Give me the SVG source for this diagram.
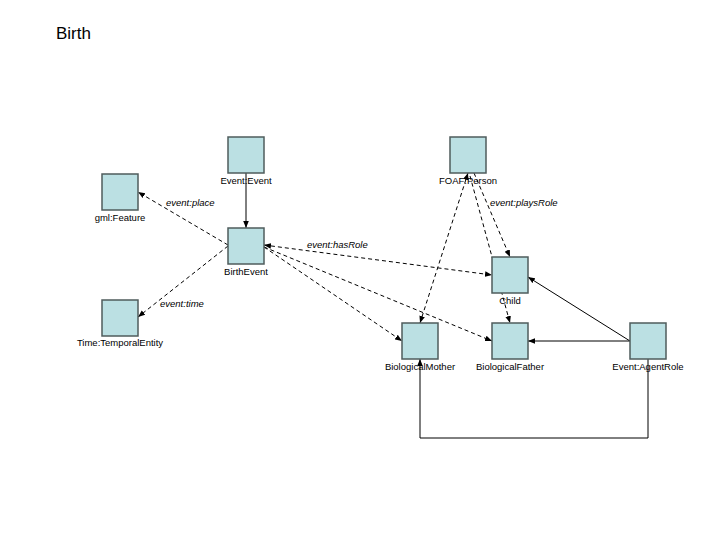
<svg xmlns="http://www.w3.org/2000/svg" width="720" height="540" viewBox="0 0 720 540">
<defs>
<marker id="ah" viewBox="0 0 10 10" refX="10" refY="5" markerWidth="7" markerHeight="7" orient="auto-start-reverse" markerUnits="userSpaceOnUse">
<path d="M0,1 L10,5 L0,9 z" fill="#000"/>
</marker>
<style>
.box{fill:#bbe0e3;stroke:#4f5c5c;stroke-width:1.5}
.lbl{font-family:"Liberation Sans",Arial,sans-serif;font-size:9.5px;fill:#000;text-anchor:middle}
.el{font-family:"Liberation Sans",Arial,sans-serif;font-size:9.5px;font-style:italic;fill:#000}
.d{fill:none;stroke:#000;stroke-width:1;stroke-dasharray:4,3;marker-end:url(#ah)}
.s{fill:none;stroke:#000;stroke-width:1;marker-end:url(#ah)}
</style>
</defs>
<rect width="720" height="540" fill="#fff"/>
<text x="56" y="39" font-family="Liberation Sans,Arial,sans-serif" font-size="17" fill="#000">Birth</text>
<g id="connectors">
<line class="s" x1="246" y1="173" x2="246" y2="228"/>
<line class="d" x1="228" y1="245" x2="138" y2="192"/>
<line class="d" x1="228" y1="246" x2="138" y2="317"/>
<line class="d" x1="264" y1="245" x2="492" y2="275" style="marker-start:url(#ah)"/>
<line class="d" x1="264" y1="247" x2="402" y2="341"/>
<line class="d" x1="264" y1="247" x2="492" y2="341"/>
<line class="d" x1="474" y1="173" x2="510" y2="257"/>
<line class="d" x1="468" y1="173" x2="420" y2="323" style="marker-start:url(#ah)"/>
<line class="d" x1="470" y1="176" x2="510" y2="323"/>
<line class="s" x1="630" y1="341" x2="528" y2="277"/>
<line class="s" x1="630" y1="341" x2="528" y2="341"/>
<polyline class="s" points="648,359 648,438 420,438 420,359"/>
<text class="el" x="166" y="206">event:place</text>
<text class="el" x="160" y="307">event:time</text>
<text class="el" x="307" y="248">event:hasRole</text>
<text class="el" x="490" y="206">event:playsRole</text>
</g>
<g id="EventEvent"><rect class="box" x="228" y="137" width="36" height="36"/><text class="lbl" x="246" y="184">Event:Event</text></g>
<g id="gmlFeature"><rect class="box" x="102" y="174" width="36" height="36"/><text class="lbl" x="120" y="221">gml:Feature</text></g>
<g id="BirthEvent"><rect class="box" x="228" y="228" width="36" height="36"/><text class="lbl" x="246" y="275">BirthEvent</text></g>
<g id="TimeTemporalEntity"><rect class="box" x="102" y="300" width="36" height="36"/><text class="lbl" x="120" y="346">Time:TemporalEntity</text></g>
<g id="FOAFPerson"><rect class="box" x="450" y="137" width="36" height="36"/><text class="lbl" x="468" y="184">FOAF:Person</text></g>
<g id="Child"><rect class="box" x="492" y="257" width="36" height="36"/><text class="lbl" x="510" y="304">Child</text></g>
<g id="BiologicalMother"><rect class="box" x="402" y="323" width="36" height="36"/><text class="lbl" x="420" y="370">BiologicalMother</text></g>
<g id="BiologicalFather"><rect class="box" x="492" y="323" width="36" height="36"/><text class="lbl" x="510" y="370">BiologicalFather</text></g>
<g id="EventAgentRole"><rect class="box" x="630" y="323" width="36" height="36"/><text class="lbl" x="648" y="370">Event:AgentRole</text></g>
</svg>
